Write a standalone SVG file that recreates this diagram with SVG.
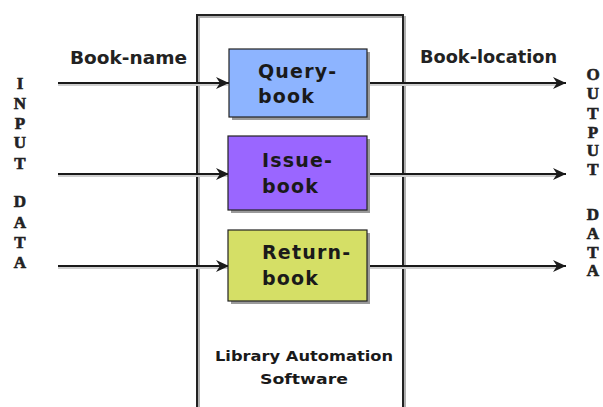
<svg xmlns="http://www.w3.org/2000/svg" width="603" height="407" viewBox="0 0 603 407">
  <defs>
    <marker id="arrow" markerUnits="userSpaceOnUse" markerWidth="14" markerHeight="12" refX="13" refY="6" orient="auto">
      <path d="M0,0 L13,6 L0,12 L4,6 Z" fill="#1a1a1a"/>
    </marker>
    <style>
      .proc { stroke: #222; stroke-width: 1.2; }
      .shadow { fill: #9a9a9a; }
      .ptext { font-family: "DejaVu Sans", Verdana, sans-serif; font-weight: bold; font-size: 19px; fill: #1a1a1a; letter-spacing: 1.2px; }
      .label { font-family: "DejaVu Sans", Verdana, sans-serif; font-weight: bold; font-size: 17px; fill: #222; }
      .vert { font-family: "Liberation Serif", "Times New Roman", serif; font-weight: bold; font-size: 17px; fill: #222; text-anchor: middle; stroke: #222; stroke-width: 0.6; }
      .conn { stroke: #1a1a1a; stroke-width: 2; fill: none; }
      .connshadow { stroke: #cfcfcf; stroke-width: 2; fill: none; }
      .sys { font-family: "DejaVu Sans", Verdana, sans-serif; font-weight: bold; font-size: 14px; fill: #1a1a1a; text-anchor: middle; }
    </style>
  </defs>
  <rect width="603" height="407" fill="#ffffff"/>

  <g id="system-boundary">
    <path d="M199,407 V17 H405 V407" fill="none" stroke="#b0b0b0" stroke-width="2"/>
    <path d="M197,407 V15 H403 V407" fill="none" stroke="#222" stroke-width="2"/>
    <text class="sys" x="304" y="361" textLength="178" lengthAdjust="spacingAndGlyphs">Library Automation</text>
    <text class="sys" x="304" y="384" textLength="88" lengthAdjust="spacingAndGlyphs">Software</text>
  </g>

  <g id="connectors">
    <g>
      <line class="connshadow" x1="58" y1="85" x2="228" y2="85"/>
      <line class="connshadow" x1="58" y1="176" x2="228" y2="176"/>
      <line class="connshadow" x1="58" y1="268" x2="228" y2="268"/>
      <line class="connshadow" x1="368" y1="85" x2="560" y2="85"/>
      <line class="connshadow" x1="368" y1="176" x2="560" y2="176"/>
      <line class="connshadow" x1="368" y1="268" x2="560" y2="268"/>
    </g>
    <line id="in-query" class="conn" x1="58" y1="83" x2="229" y2="83" marker-end="url(#arrow)"/>
    <line id="in-issue" class="conn" x1="58" y1="174" x2="229" y2="174" marker-end="url(#arrow)"/>
    <line id="in-return" class="conn" x1="58" y1="266" x2="229" y2="266" marker-end="url(#arrow)"/>
    <line id="out-query" class="conn" x1="367" y1="83" x2="566" y2="83" marker-end="url(#arrow)"/>
    <line id="out-issue" class="conn" x1="367" y1="174" x2="566" y2="174" marker-end="url(#arrow)"/>
    <line id="out-return" class="conn" x1="367" y1="266" x2="566" y2="266" marker-end="url(#arrow)"/>
    <text class="label" x="70" y="64" textLength="117" lengthAdjust="spacingAndGlyphs">Book-name</text>
    <text class="label" x="420" y="63" textLength="137" lengthAdjust="spacingAndGlyphs">Book-location</text>
  </g>

  <g id="query-book">
    <rect class="shadow" x="232" y="52" width="138" height="68"/>
    <rect class="proc" x="229" y="49" width="138" height="68" fill="#8db4ff"/>
    <text class="ptext" x="258" y="78">Query-</text>
    <text class="ptext" x="258" y="103">book</text>
  </g>

  <g id="issue-book">
    <rect class="shadow" x="231" y="139" width="139" height="74"/>
    <rect class="proc" x="228" y="136" width="139" height="74" fill="#9a66ff"/>
    <text class="ptext" x="262" y="167">Issue-</text>
    <text class="ptext" x="262" y="193">book</text>
  </g>

  <g id="return-book">
    <rect class="shadow" x="231" y="233" width="139" height="71"/>
    <rect class="proc" x="228" y="230" width="139" height="71" fill="#d5df66"/>
    <text class="ptext" x="262" y="259">Return-</text>
    <text class="ptext" x="262" y="285">book</text>
  </g>

  <g id="input-data">
    <text class="vert" x="20" y="89">I</text>
    <text class="vert" x="20" y="109">N</text>
    <text class="vert" x="20" y="129">P</text>
    <text class="vert" x="20" y="148">U</text>
    <text class="vert" x="20" y="169">T</text>
    <text class="vert" x="20" y="207">D</text>
    <text class="vert" x="20" y="228">A</text>
    <text class="vert" x="20" y="248">T</text>
    <text class="vert" x="20" y="268">A</text>
  </g>

  <g id="output-data">
    <text class="vert" x="593" y="80">O</text>
    <text class="vert" x="593" y="99">U</text>
    <text class="vert" x="593" y="119">T</text>
    <text class="vert" x="593" y="138">P</text>
    <text class="vert" x="593" y="156">U</text>
    <text class="vert" x="593" y="175">T</text>
    <text class="vert" x="593" y="220">D</text>
    <text class="vert" x="593" y="239">A</text>
    <text class="vert" x="593" y="258">T</text>
    <text class="vert" x="593" y="276">A</text>
  </g>
</svg>
